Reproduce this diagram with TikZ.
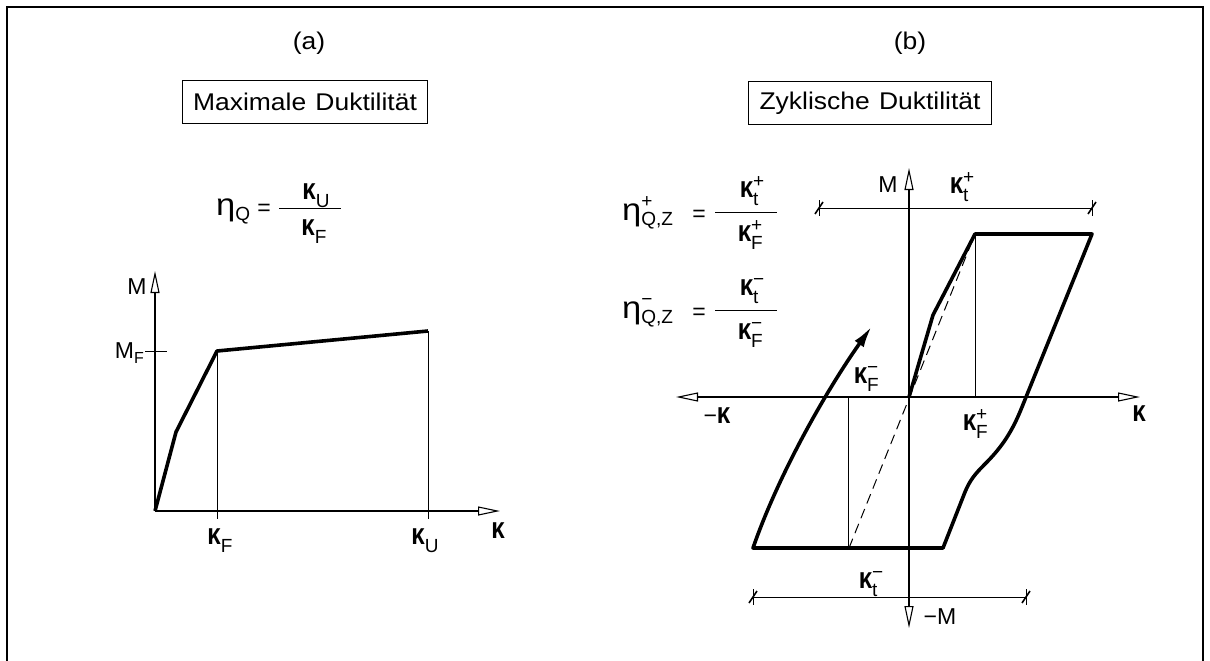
\documentclass[tikz,border=0pt]{standalone}
\usepackage{fontspec}
\usepackage{graphicx}
\setmainfont{Liberation Sans}
\usetikzlibrary{arrows.meta}
\newcommand{\scr}{\fontsize{19}{19}\selectfont}
\newcommand{\kap}{\scalebox{1.05}[1.3]{\bfseries κ}}
\newcommand{\etaG}{\scalebox{1.5}[1.35]{η}}
\newcommand{\Ksub}[1]{\kap\raisebox{-8pt}{\scr #1}}
\newcommand{\Kss}[2]{\kap\makebox[0pt][l]{\raisebox{10pt}{\scr #1}}\makebox[11pt][l]{\raisebox{-8pt}{\scr #2}}}
\newcommand{\wide}[1]{\scalebox{1.15}[1.05]{#1}}
\tikzset{
  frame/.style={line width=2.5pt},
  titlebox/.style={draw, line width=1.6pt, minimum width=245pt, minimum height=43pt, inner sep=0pt},
  axisline/.style={line width=1.1pt, -{Triangle[open,length=22pt,width=9pt,line width=1.1pt]}},
  axisboth/.style={line width=1.1pt, {Triangle[open,length=22pt,width=9pt,line width=1.1pt]}-{Triangle[open,length=22pt,width=9pt,line width=1.1pt]}},
  guide/.style={line width=1pt},
  curve/.style={line width=3.6pt, line join=round},
  dashline/.style={line width=1pt, dash pattern=on 10pt off 6pt},
  lbl/.style={inner sep=0pt},
  dimtick/.pic={\draw[line width=1pt] (0,-8) -- (0,8); \draw[line width=1.6pt] (-4,6) -- (4,-6);}
}
\begin{document}
\begin{tikzpicture}[x=1pt,y=-1pt,font=\fontsize{23}{27}\selectfont]
\useasboundingbox (0,0) rectangle (1210,661);
% frame
\coordinate (FBL) at (7,662);
\coordinate (FTL) at (7,7);
\coordinate (FTR) at (1203,7);
\coordinate (FBR) at (1203,662);
\draw[frame] (FBL) -- (FTL) -- (FTR) -- (FBR);

% ---------------- panel (a)
\node[lbl] (ta) at (309,43) {\wide{(a)}};
\node[titlebox] (boxa) at (305,102) {\wide{Maximale\hspace{0.35em}Duktilität}};

\node[lbl, anchor=base west] (etaQ) at (216,215) {\etaG\raisebox{-5pt}{\scr Q}};
\node[lbl, anchor=base] (eqa) at (264,215) {=};
\node[lbl, anchor=base] (numU) at (316,199) {\Ksub{U}};
\node[lbl, anchor=base] (denF) at (314,235) {\Ksub{F}};
\coordinate (barA1) at (279,208);
\coordinate (barA2) at (341,208);
\draw[guide] (barA1) -- (barA2);

\coordinate (O1) at (155,511);
\coordinate (Mtip1) at (155,271);
\coordinate (Ktip1) at (500,511);
\coordinate (P1) at (176,432);
\coordinate (PF) at (217,351);
\coordinate (PU) at (428,331);
\coordinate (KF) at (217,519);
\coordinate (KU) at (428,519);
\coordinate (MFa) at (145,351);
\coordinate (MFb) at (167,351);
\draw[axisline] (O1) -- (Mtip1);
\draw[axisline] (O1) -- (Ktip1);
\draw[guide] (PF) -- (KF);
\draw[guide] (PU) -- (KU);
\draw[guide] (MFa) -- (MFb);
\draw[curve] (O1) -- (P1) -- (PF) -- (PU);

\node[lbl] (lM) at (137,287) {M};
\node[lbl, anchor=base east] (lMF) at (144,358) {M\raisebox{-5pt}{\fontsize{16}{16}\selectfont F}};
\node[lbl, anchor=base] (lKF) at (220,544) {\Ksub{F}};
\node[lbl, anchor=base] (lKU) at (425,544) {\Ksub{U}};
\node[lbl] (lK) at (498,531) {\kap};

% ---------------- panel (b)
\node[lbl] (tb) at (910,43) {\wide{(b)}};
\node[titlebox, minimum width=243pt] (boxb) at (870,103) {\wide{Zyklische\hspace{0.35em}Duktilität}};

\node[lbl, anchor=base west] (etaP) at (622,220) {\etaG\makebox[0pt][l]{\raisebox{13pt}{\scr +}}\raisebox{-5pt}{\scr Q,Z}};
\node[lbl, anchor=base] (eqP) at (699,221) {=};
\node[lbl, anchor=base] (numP) at (752,197) {\Kss{+}{t}};
\node[lbl, anchor=base] (denP) at (750,241) {\Kss{+}{F}};
\coordinate (barP1) at (715,212);
\coordinate (barP2) at (777,212);
\draw[guide] (barP1) -- (barP2);

\node[lbl, anchor=base west] (etaN) at (622,318) {\etaG\makebox[0pt][l]{\raisebox{13pt}{\scr −}}\raisebox{-5pt}{\scr Q,Z}};
\node[lbl, anchor=base] (eqN) at (699,319) {=};
\node[lbl, anchor=base] (numN) at (752,295) {\Kss{−}{t}};
\node[lbl, anchor=base] (denN) at (750,339) {\Kss{−}{F}};
\coordinate (barN1) at (715,310);
\coordinate (barN2) at (777,310);
\draw[guide] (barN1) -- (barN2);

\coordinate (O2) at (909,397);
\coordinate (Mtop) at (909,168);
\coordinate (Mbot) at (909,628);
\coordinate (Kleft) at (676,397);
\coordinate (Kright) at (1140,397);
\draw[axisboth] (Mbot) -- (Mtop);
\draw[axisboth] (Kleft) -- (Kright);

\coordinate (TL) at (975,234);
\coordinate (TR) at (1092,234);
\coordinate (TLb) at (975,397);
\coordinate (BLt) at (848,397);
\coordinate (BL) at (848,548);
\coordinate (DashB) at (849,548);
\coordinate (Kink) at (933,315);
\coordinate (BRc) at (943,548);
\coordinate (BLc) at (753,548);
\coordinate (ArrTip) at (872,326);
\draw[guide] (TL) -- (TLb);
\draw[guide] (BLt) -- (BL);
\draw[dashline] (DashB) -- (TL);
\draw[curve, -{Latex[length=22pt,width=11pt]}] (O2) -- (Kink) -- (TL) -- (TR) -- (1022,407)
  .. controls (1012,432) and (1002,447) .. (985,464)
  .. controls (975,474) and (970,480) .. (965,492)
  -- (BRc) -- (BLc) .. controls (780,470) and (830,385) .. (ArrTip);

\coordinate (DT1) at (819,208);
\coordinate (DT2) at (1092,208);
\coordinate (DB1) at (753,597);
\coordinate (DB2) at (1026,597);
\draw[guide] (DT1) -- (DT2);
\draw[guide] (DB1) -- (DB2);
\pic at (DT1) {dimtick};
\pic at (DT2) {dimtick};
\pic at (DB1) {dimtick};
\pic at (DB2) {dimtick};

\node[lbl] (rM) at (888,185) {M};
\node[lbl, anchor=base] (rKtp) at (962,193) {\Kss{+}{t}};
\node[lbl, anchor=base] (rKFm) at (866,383) {\Kss{−}{F}};
\node[lbl, anchor=base] (rKFp) at (975,430) {\Kss{+}{F}};
\node[lbl] (rK) at (1139,414) {\kap};
\node[lbl] (rmK) at (717,416) {−\kap};
\node[lbl, anchor=base] (rKtm) at (871,588) {\Kss{−}{t}};
\node[lbl] (rmM) at (940,617) {−M};
\end{tikzpicture}
\end{document}
